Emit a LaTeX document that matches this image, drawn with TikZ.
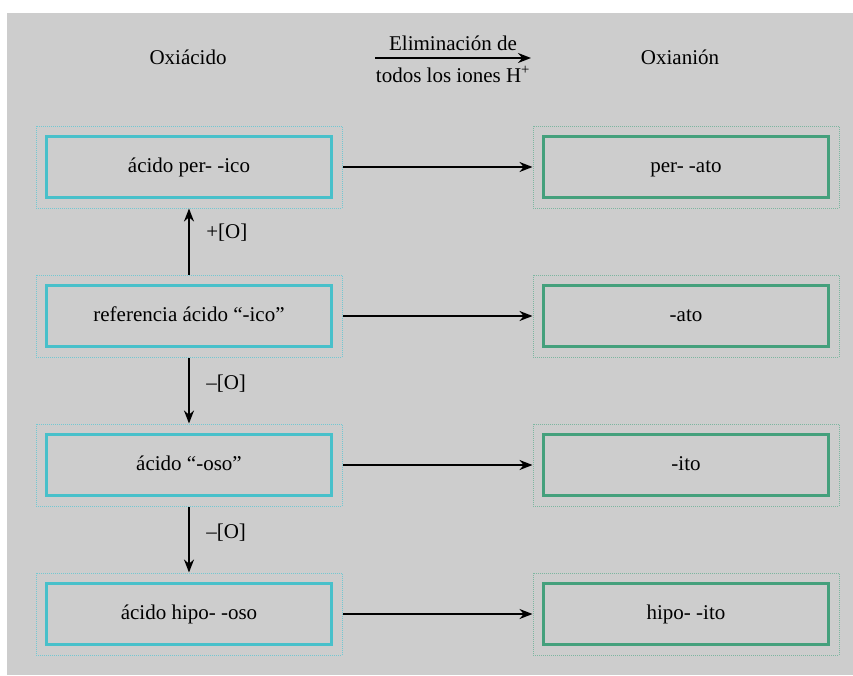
\documentclass[tikz,border=0pt]{standalone}
\usepackage{fontspec}
\setmainfont{Liberation Serif}
\usetikzlibrary{arrows.meta}
\usetikzlibrary{positioning}

\definecolor{fondo}{RGB}{205,205,205}
\definecolor{cian}{RGB}{72,192,202}
\definecolor{cianclaro}{RGB}{115,200,210}
\definecolor{verde}{RGB}{68,160,124}
\definecolor{verdeclaro}{RGB}{125,182,160}

\begin{document}
\begin{tikzpicture}[x=1pt,y=-1pt,
    font=\fontsize{21}{25}\selectfont,
    caja/.style={draw=cian, line width=2.6pt, minimum width=285pt, minimum height=61pt, inner sep=0pt, text height=14pt, text depth=4pt},
    marco/.style={draw=cianclaro, line width=1pt, dash pattern=on 1pt off 1pt, minimum width=306pt, minimum height=82pt, inner sep=0pt},
    cajav/.style={caja, draw=verde},
    marcov/.style={marco, draw=verdeclaro},
    flecha/.style={-{Stealth[length=13pt,width=10pt]}, line width=2pt}]

            \useasboundingbox (0,0) rectangle (853,675);
            \fill[fondo] (7,13) rectangle (853,675);

            % encabezado
            \node (oxiacido) at (188,57) {Oxiácido};
            \node (oxianion) at (680,57) {Oxianión};
            \coordinate (ini) at (375,58);
            \coordinate (fin) at (531,58);
            \draw[flecha] (ini) -- (fin)
                node[midway, above=3pt] {Eliminación de}
                node[midway, below=4pt] {todos los iones H\textsuperscript{+}};

            % oxiacidos
            \node[marco] (per) at (189,167) {};
            \node[caja] (pertxt) at (per) {ácido per- -ico};
            \node[marco] (ico) at (189,316) {};
            \node[caja] (icotxt) at (ico) {referencia ácido “-ico”};
            \node[marco] (oso) at (189,465) {};
            \node[caja] (osotxt) at (oso) {ácido “-oso”};
            \node[marco] (hipo) at (189,614) {};
            \node[caja] (hipotxt) at (hipo) {ácido hipo- -oso};

            % oxianiones
            \node[marcov] (perato) at (686,167) {};
            \node[cajav] (peratotxt) at (perato) {per- -ato};
            \node[marcov] (ato) at (686,316) {};
            \node[cajav] (atotxt) at (ato) {-ato};
            \node[marcov] (ito) at (686,465) {};
            \node[cajav] (itotxt) at (ito) {-ito};
            \node[marcov] (hipoito) at (686,614) {};
            \node[cajav] (hipoitotxt) at (hipoito) {hipo- -ito};

            \draw[flecha] (ico) -- (per) node[pos=0.63, right=13pt] {+[O]};
            \draw[flecha] (ico) -- (oso) node[pos=0.4, right=13pt] {–[O]};
            \draw[flecha] (oso) -- (hipo) node[pos=0.4, right=13pt] {–[O]};

            \draw[flecha] (per) -- (perato);
            \draw[flecha] (ico) -- (ato);
            \draw[flecha] (oso) -- (ito);
            \draw[flecha] (hipo) -- (hipoito);
        \end{tikzpicture}
\end{document}
